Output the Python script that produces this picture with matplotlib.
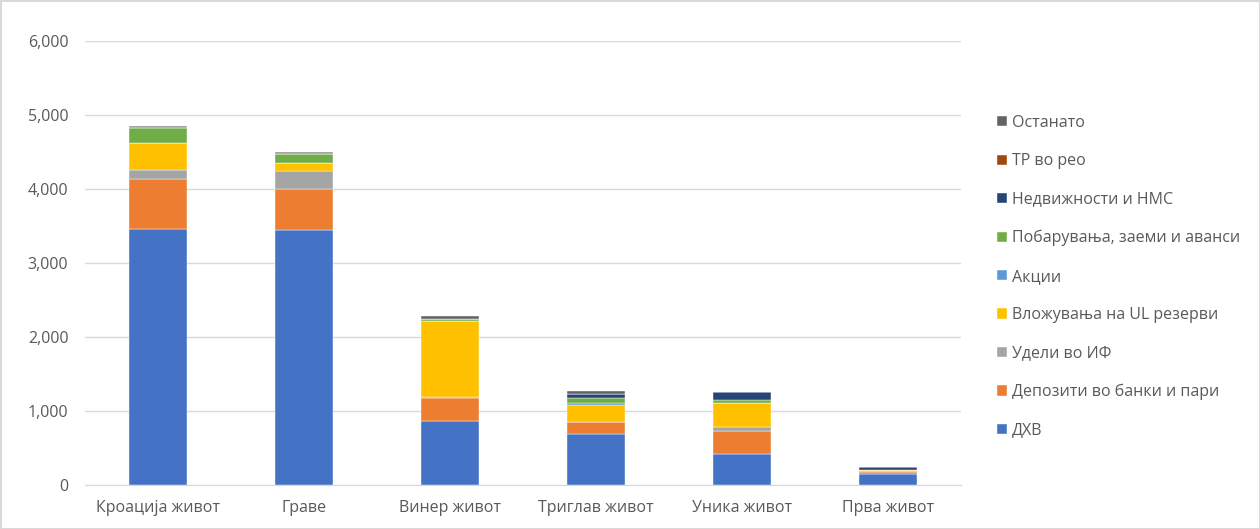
import matplotlib.pyplot as plt
import numpy as np

plt.rcParams['font.family'] = ['Open Sans', 'DejaVu Sans']

companies = ['Кроација живот', 'Граве', 'Винер живот', 'Триглав живот', 'Уника живот', 'Прва живот']

series_names = ['ДХВ', 'Депозити во банки и пари', 'Удели во ИФ', 'Вложувања на UL резерви',
                'Акции', 'Побарувања, заеми и аванси', 'Недвижности и НМС', 'ТР во рео', 'Останато']

dhv = [3460, 3441, 867, 687, 418, 150]
depoziti = [673, 558, 315, 166, 314, 30]
udeli = [117, 237, 10, 0, 46, 5]
ul_rezervi = [369, 113, 1022, 229, 327, 17]
akcii = [0, 0, 0, 27, 0, 0]
pobaruvanja = [202, 121, 23, 73, 50, 3]
nedviznosti = [12, 0, 5, 54, 102, 35]
tr_reo = [0, 18, 0, 0, 5, 0]
ostanato = [10, 5, 38, 31, 0, 0]

colors = ['#4472C4', '#ED7D31', '#A5A5A5', '#FFC000', '#5B9BD5', '#70AD47', '#264478', '#9E480E', '#636363']

data = [dhv, depoziti, udeli, ul_rezervi, akcii, pobaruvanja, nedviznosti, tr_reo, ostanato]

fig = plt.figure(figsize=(12.6, 5.29), dpi=100)
ax = fig.add_axes([0.0675, 0.083, 0.695, 0.840])

x = np.arange(len(companies))
bottom = np.zeros(len(companies))
handles = []
for vals, name, c in zip(data, series_names, colors):
    h = ax.bar(x, vals, 0.4, bottom=bottom, color=c, label=name, edgecolor='white', linewidth=0.3, zorder=3)
    handles.append(h)
    bottom += np.array(vals)

ax.set_ylim(0, 6000)
ax.set_xlim(-0.5, len(companies) - 0.5)
ax.set_yticks(range(0, 6001, 1000))
ax.set_yticklabels([f'{v:,}' for v in range(0, 6001, 1000)])
ax.set_xticks(x)
ax.set_xticklabels(companies)
ax.yaxis.grid(True, color='#D9D9D9', linewidth=1, zorder=0)
for s in ['top', 'right', 'left']:
    ax.spines[s].set_visible(False)
ax.spines['bottom'].set_color('#D9D9D9')
ax.tick_params(axis='both', length=0, colors='#595959', labelsize=11.5)
ax.tick_params(axis='y', pad=12)
ax.tick_params(axis='x', pad=11)

fig.legend(handles[::-1], series_names[::-1], loc='upper left', bbox_to_anchor=(0.780, 0.81),
           frameon=False, fontsize=11.5, labelcolor='#595959', handlelength=0.6, handleheight=0.6,
           handletextpad=0.35, labelspacing=1.4)

fig.patch.set_edgecolor('#D9D9D9')
fig.patch.set_linewidth(1)

fig.savefig('out.png', dpi=100)
